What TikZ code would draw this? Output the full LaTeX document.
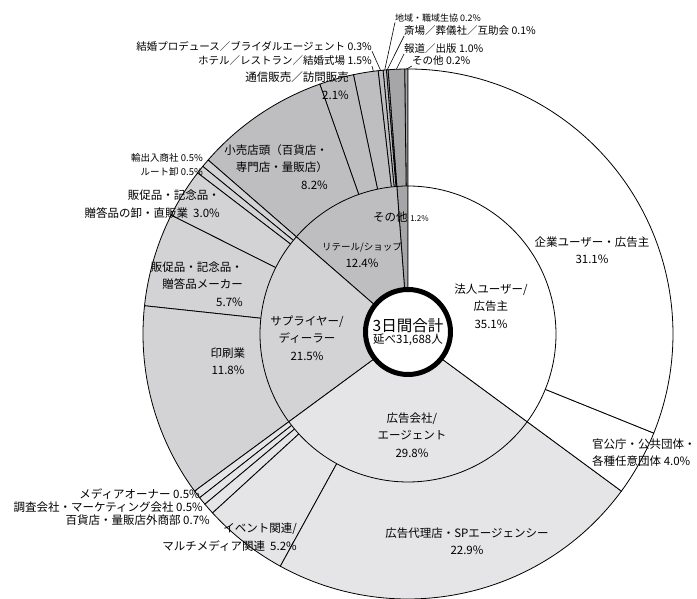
\documentclass[tikz,border=0pt]{standalone}
\usepackage{fontspec}
\setmainfont{Noto Sans CJK JP}
\usetikzlibrary{positioning}
\definecolor{agencygray}{RGB}{229,229,231}
\definecolor{suppliergray}{RGB}{211,211,213}
\definecolor{retailgray}{RGB}{190,190,192}
\definecolor{othergray}{RGB}{166,166,168}

\begin{document}
\begin{tikzpicture}[x=1pt, y=1pt,
    lbl/.style={font=\fontsize{11.5}{17.5}\selectfont, align=center, inner sep=0pt},
    smalllbl/.style={font=\fontsize{10.5}{12}\selectfont, inner sep=0pt},
    wedge/.style={draw=black, line width=0.8pt}]
  \useasboundingbox (-408,334) rectangle (289,-265);

  % outer ring
  \foreach \a/\b/\c in {90/90.72/othergray, 90.72/94.32/othergray,
      94.32/94.68/retailgray, 94.68/95.4/retailgray, 95.4/96.48/retailgray,
      96.48/101.88/retailgray, 101.88/109.44/retailgray, 109.44/138.96/retailgray,
      138.96/140.76/suppliergray, 140.76/142.56/suppliergray, 142.56/153.36/suppliergray,
      153.36/173.88/suppliergray, 173.88/216.36/suppliergray,
      216.36/218.16/agencygray, 218.16/219.96/agencygray, 219.96/222.48/agencygray,
      222.48/241.2/agencygray, 241.2/323.64/agencygray,
      323.64/338.04/white, 338.04/450/white}
    \filldraw[wedge, fill=\c] (0,0) -- (\a:265) arc[start angle=\a, end angle=\b, radius=265] -- cycle;

  % inner ring
  \foreach \a/\b/\c in {90/94.32/othergray, 94.32/138.96/retailgray,
      138.96/216.36/suppliergray, 216.36/323.64/agencygray, 323.64/450/white}
    \filldraw[wedge, fill=\c] (0,0) -- (\a:148) arc[start angle=\a, end angle=\b, radius=148] -- cycle;

  \node (total) [circle, draw, line width=5pt, fill=white, minimum size=85pt, inner sep=0pt, align=center] at (0,2)
    {{\fontsize{15.5}{18}\selectfont 3日間合計}\\{\fontsize{11.5}{14}\selectfont 延べ31,688人}};

  % inner labels
  \node (corp) [lbl] at (83,28) {法人ユーザー/\\広告主\\35.1\%};
  \node (agency) [lbl] at (4,-101) {広告会社/\\エージェント\\29.8\%};
  \node (supplier) [lbl] at (-101,-4) {サプライヤー/\\ディーラー\\21.5\%};
  \node (retail) [lbl] at (-46,79) {{\fontsize{9.5}{12}\selectfont リテール/ショップ}\\12.4\%};
  \node (other) [lbl] at (-7,117) {その他 {\fontsize{8}{10}\selectfont 1.2\%}};

  % outer labels
  \node (enduser) [lbl] at (184,84) {企業ユーザー・広告主\\31.1\%};
  \node (public) [lbl, align=left, anchor=west] at (184,-118.5) {官公庁・公共団体・\\各種任意団体 4.0\%};
  \node (adagency) [lbl] at (59,-207) {広告代理店・SPエージェンシー\\22.9\%};
  \node (event) [lbl, align=right, anchor=east] at (-111,-203) {イベント関連/\\マルチメディア関連\ \ 5.2\%};
  \node (dept) [lbl, anchor=east] at (-198,-186) {百貨店・量販店外商部 0.7\%};
  \node (research) [lbl, anchor=east] at (-205,-173) {調査会社・マーケティング会社 0.5\%};
  \node (media) [lbl, anchor=east] at (-208,-160) {メディアオーナー 0.5\%};
  \node (print) [lbl] at (-180,-27) {印刷業\\11.8\%};
  \node (maker) [lbl, align=right, anchor=east] at (-165,50) {販促品・記念品・\\贈答品メーカー\\5.7\%};
  \node (whole) [lbl, align=right, anchor=east] at (-188,130) {販促品・記念品・\\贈答品の卸・直販業\ \ 3.0\%};
  \node (store) [lbl, align=right, anchor=east] at (-80,167) {小売店頭（百貨店・\\専門店・量販店）\\8.2\%};
  \node (trade) [smalllbl, font=\fontsize{9.5}{12}\selectfont, anchor=east] at (-205,176) {輸出入商社 0.5\%};
  \node (route) [smalllbl, font=\fontsize{9.5}{12}\selectfont, anchor=east] at (-205,162) {ルート卸 0.5\%};
  \node (mail) [lbl, align=right, anchor=east] at (-59,248.5) {通信販売／訪問販売\\2.1\%};
  \node (bridal) [smalllbl, anchor=east] at (-36,288) {結婚プロデュース／ブライダルエージェント 0.3\%};
  \node (hotel) [smalllbl, anchor=east] at (-36,273) {ホテル／レストラン／結婚式場 1.5\%};
  \node (coop) [smalllbl, font=\fontsize{9}{12}\selectfont, anchor=west] at (-13,316) {地域・職域生協 0.2\%};
  \node (funeral) [smalllbl, anchor=west] at (-4,303) {斎場／葬儀社／互助会 0.1\%};
  \node (press) [smalllbl, anchor=west] at (-4,285) {報道／出版 1.0\%};
  \node (misc) [smalllbl, anchor=west] at (4,273) {その他 0.2\%};

  % leader lines
  \coordinate (p-coop) at (95.04:265);
  \coordinate (p-funeral) at (94.5:265);
  \coordinate (p-press) at (92.52:265);
  \coordinate (p-misc) at (90.36:265);
  \coordinate (p-bridal) at (95.94:265);
  \coordinate (p-hotel) at (97.5:265);
  \draw[line width=0.6pt] (coop.south west) -- (p-coop);
  \draw[line width=0.6pt] (funeral.south west) -- (p-funeral);
  \draw[line width=0.6pt] (press.south west) -- (p-press);
  \draw[line width=0.6pt] (misc.south west) -- (p-misc);
  \draw[line width=0.6pt] (bridal.south east) -- (p-bridal);
  \draw[line width=0.6pt] (hotel.south east) -- (p-hotel);
\end{tikzpicture}
\end{document}
